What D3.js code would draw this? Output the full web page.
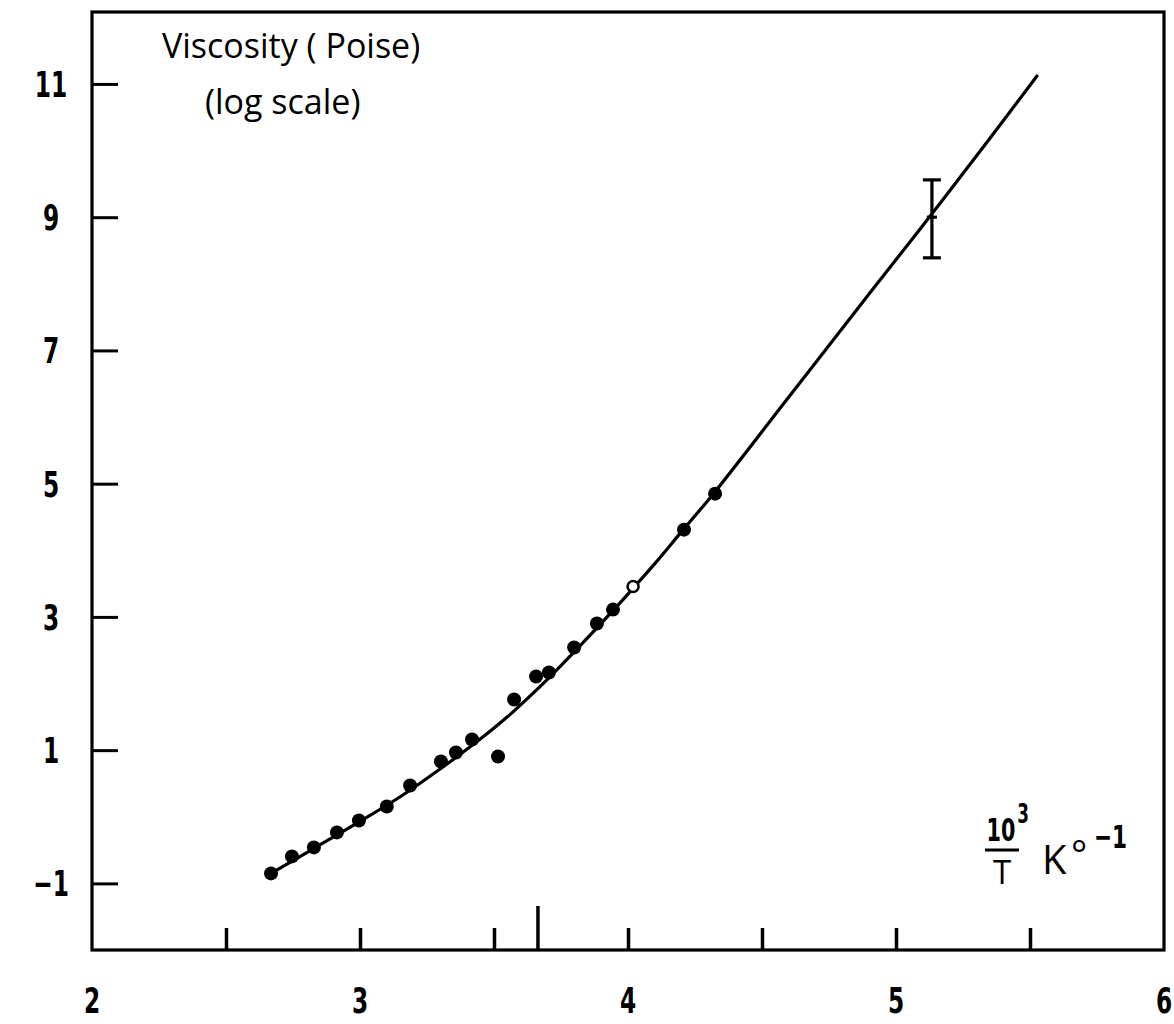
<!DOCTYPE html>
<html>
<head>
  <script src="https://d3js.org/d3.v7.min.js"></script>
  <style>
    body { margin: 0; background: #fff; }
    .num { font-family: "Liberation Sans Narrow", "DejaVu Sans Condensed", sans-serif; font-weight: bold; }
    .lbl { font-family: "Open Sans", "DejaVu Sans", sans-serif; }
  </style>
</head>
<body>
  <script>
    // Values (x = 10^3/T, y = log10 viscosity)
    const xTicks = [2.5, 3, 3.5, 4, 4.5, 5, 5.5];
    const xMarker = 3.664;              // long tick on the x axis
    const xLabels = [2, 3, 4, 5, 6];
    const yTicks = [-1, 1, 3, 5, 7, 9, 11];

    const pointX = [2.668, 2.746, 2.828, 2.914, 2.996, 3.10, 3.187, 3.302, 3.358, 3.418,
                    3.515, 3.575, 3.657, 3.705, 3.799, 3.884, 3.944, 4.209, 4.325];
    const pointY = [-0.85, -0.595, -0.46, -0.235, -0.055, 0.155, 0.47, 0.83, 0.965, 1.16,
                    0.905, 1.76, 2.105, 2.165, 2.54, 2.9, 3.11, 4.31, 4.85];
    const openPoint = [4.019, 3.455];

    const curveX = [2.668, 2.83, 3.0, 3.15, 3.3, 3.45, 3.55, 3.65, 3.75, 3.85, 3.95, 4.019,
                    4.1, 4.2, 4.325, 4.6, 4.9, 5.134, 5.35, 5.526];
    const curveY = [-0.85, -0.47, -0.07, 0.3, 0.72, 1.17, 1.5, 1.87, 2.27, 2.69, 3.12, 3.43,
                    3.8, 4.28, 4.88, 6.3, 7.85, 9.05, 10.18, 11.12];

    const errX = 5.134, errLow = 8.39, errMid = 9.0, errHigh = 9.56;

    const W = 1174, H = 1024;
    const margin = {top: 12, right: 10, bottom: 74, left: 92};

    const svg = d3.select("body").append("svg")
      .attr("width", W)
      .attr("height", H);

    const x = d3.scaleLinear().domain([2, 6]).range([margin.left, W - margin.right]);
    const y = d3.scaleLinear().domain([-2, 12.08]).range([H - margin.bottom, margin.top]);

    // Frame
    svg.append("rect")
      .attr("x", x(2)).attr("y", y(12.08))
      .attr("width", x(6) - x(2)).attr("height", y(-2) - y(12.08))
      .attr("fill", "none").attr("stroke", "#000").attr("stroke-width", 3.2);

    // Bottom ticks (pointing inward)
    const xAxis = svg.append("g")
      .attr("transform", `translate(0,${y(-2)})`)
      .call(d3.axisBottom(x).tickValues(xTicks).tickSize(-22).tickSizeOuter(0).tickFormat(""));
    xAxis.select(".domain").remove();
    xAxis.selectAll("line").attr("stroke-width", 3.5);

    svg.append("line")
      .attr("x1", x(xMarker)).attr("x2", x(xMarker))
      .attr("y1", y(-2)).attr("y2", y(-2) - 44)
      .attr("stroke", "#000").attr("stroke-width", 3.5);

    // Left ticks (pointing inward)
    const yAxis = svg.append("g")
      .attr("transform", `translate(${x(2)},0)`)
      .call(d3.axisLeft(y).tickValues(yTicks).tickSize(-26).tickSizeOuter(0).tickFormat(""));
    yAxis.select(".domain").remove();
    yAxis.selectAll("line").attr("stroke-width", 3);

    // Tick labels, narrow bold digits
    svg.selectAll(".xl").data(xLabels).enter().append("text")
      .attr("class", "num")
      .attr("transform", d => `translate(${x(d)},${y(-2) + 63}) scale(0.72,1)`)
      .attr("text-anchor", "middle")
      .attr("font-size", 36)
      .text(d => d);

    svg.selectAll(".yl").data(yTicks).enter().append("text")
      .attr("class", "num")
      .attr("transform", d => `translate(51,${y(d) + 13}) scale(0.72,1)`)
      .attr("text-anchor", "middle")
      .attr("font-size", 36)
      .text(d => d < 0 ? "\u2212" + Math.abs(d) : d);

    // Fitted curve
    const curveData = curveX.map((v, i) => [v, curveY[i]]);
    svg.append("path")
      .datum(curveData)
      .attr("fill", "none")
      .attr("stroke", "#000")
      .attr("stroke-width", 3.2)
      .attr("stroke-linecap", "round")
      .attr("d", d3.line().x(d => x(d[0])).y(d => y(d[1])).curve(d3.curveCatmullRom.alpha(0.5)));

    // Measured points
    const pts = pointX.map((v, i) => [v, pointY[i]]);
    svg.selectAll(".pt").data(pts).enter().append("circle")
      .attr("cx", d => x(d[0])).attr("cy", d => y(d[1]))
      .attr("r", 7).attr("fill", "#000");

    svg.append("circle")
      .attr("cx", x(openPoint[0])).attr("cy", y(openPoint[1]))
      .attr("r", 5.5).attr("fill", "#fff")
      .attr("stroke", "#000").attr("stroke-width", 2.5);

    // Error bar
    const eb = svg.append("g").attr("stroke", "#000").attr("stroke-width", 3.2);
    eb.append("line").attr("x1", x(errX)).attr("x2", x(errX)).attr("y1", y(errLow)).attr("y2", y(errHigh));
    eb.append("line").attr("x1", x(errX) - 9).attr("x2", x(errX) + 9).attr("y1", y(errLow)).attr("y2", y(errLow));
    eb.append("line").attr("x1", x(errX) - 9).attr("x2", x(errX) + 9).attr("y1", y(errHigh)).attr("y2", y(errHigh));
    eb.append("line").attr("x1", x(errX) - 5).attr("x2", x(errX) + 5).attr("y1", y(errMid)).attr("y2", y(errMid));

    // Y title
    svg.append("text").attr("class", "lbl")
      .attr("x", 162).attr("y", 58).attr("font-size", 34)
      .text("Viscosity ( Poise)");
    svg.append("text").attr("class", "lbl")
      .attr("x", 205).attr("y", 114).attr("font-size", 34)
      .text("(log scale)");

    // X title: 10^3 / T  K°^-1
    const xt = svg.append("g");
    xt.append("text").attr("class", "num")
      .attr("transform", "translate(1001,841) scale(0.72,1)")
      .attr("text-anchor", "middle").attr("font-size", 32).text("10");
    xt.append("text").attr("class", "num")
      .attr("transform", "translate(1023,823) scale(0.72,1)")
      .attr("text-anchor", "middle").attr("font-size", 26).text("3");
    xt.append("line")
      .attr("x1", 985).attr("x2", 1019).attr("y1", 850).attr("y2", 850)
      .attr("stroke", "#000").attr("stroke-width", 3);
    xt.append("text").attr("class", "lbl")
      .attr("x", 1002).attr("y", 884).attr("text-anchor", "middle").attr("font-size", 33).text("T");
    xt.append("text").attr("class", "lbl")
      .attr("x", 1042).attr("y", 874).attr("font-size", 40).text("K");
    xt.append("text").attr("class", "lbl")
      .attr("x", 1071).attr("y", 868).attr("font-size", 38).text("\u00b0");
    xt.append("text").attr("class", "num")
      .attr("transform", "translate(1094,848) scale(0.75,1)")
      .attr("text-anchor", "start").attr("font-size", 32).text("\u22121");
  </script>
</body>
</html>
